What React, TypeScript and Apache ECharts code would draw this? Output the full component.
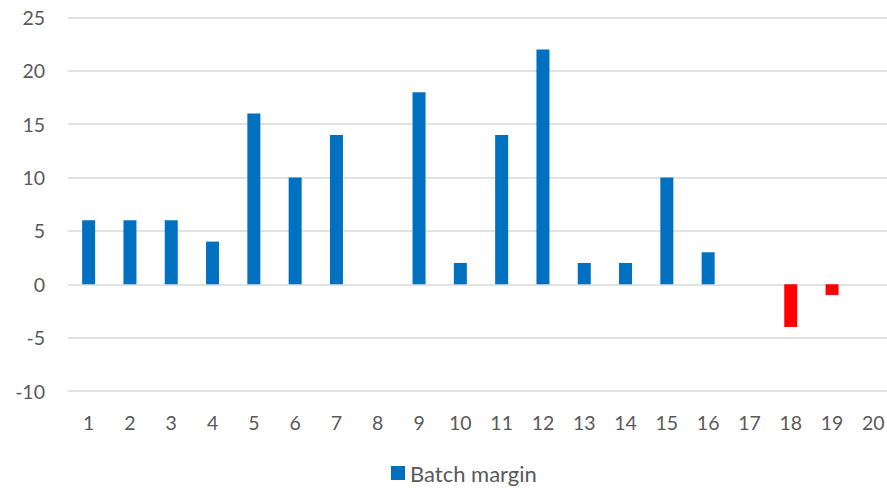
import React, { useEffect, useRef } from "react";
import * as echarts from "echarts";

const categories = ["1","2","3","4","5","6","7","8","9","10","11","12","13","14","15","16","17","18","19","20"];
const batchMargin: (number | null)[] = [6, 6, 6, 4, 16, 10, 14, null, 18, 2, 14, 22, 2, 2, 10, 3, null, -4, -1, null];
const seriesName = "Batch margin";
const yMin = -10;
const yMax = 25;
const yInterval = 5;

export default function App() {
  const ref = useRef<HTMLDivElement>(null);
  useEffect(() => {
    if (!ref.current) return;
    const chart = echarts.init(ref.current, undefined, { renderer: "svg" });
    const font = "Lato, 'Open Sans', sans-serif";
    chart.setOption({
      animation: false,
      grid: {
        left: 68,
        width: 826,
        top: 17.5,
        bottom: 98,
        containLabel: false,
        outerBoundsMode: "none",
      },
      legend: {
        data: [seriesName],
        bottom: 0,
        left: 386,
        itemWidth: 14,
        itemHeight: 14,
        icon: "rect",
        itemGap: 6,
        textStyle: { color: "#595959", fontSize: 22, fontFamily: font },
      },
      xAxis: {
        type: "category",
        data: categories,
        position: "bottom",
        axisLine: { show: false, onZero: false },
        axisTick: { show: false },
        axisLabel: { color: "#595959", fontSize: 19.5, fontFamily: font, margin: 21 },
        splitLine: { show: false },
      },
      yAxis: {
        type: "value",
        min: yMin,
        max: yMax,
        interval: yInterval,
        axisLine: { show: false },
        axisTick: { show: false },
        axisLabel: { color: "#595959", fontSize: 19.5, fontFamily: font, margin: 23 },
        splitLine: { lineStyle: { color: "#d9d9d9", width: 1.5 } },
      },
      series: [
        {
          name: seriesName,
          type: "bar",
          data: batchMargin.map((v) => ({
            value: v,
            itemStyle: { color: v !== null && v < 0 ? "#FF0000" : "#0070C0" },
          })),
          itemStyle: { color: "#0070C0" },
          barWidth: 13,
        },
      ],
    });
    return () => chart.dispose();
  }, []);
  return (
    <div
      ref={ref}
      style={{ position: "fixed", left: 0, top: 0, width: 887, height: 489, background: "#fff" }}
    />
  );
}
